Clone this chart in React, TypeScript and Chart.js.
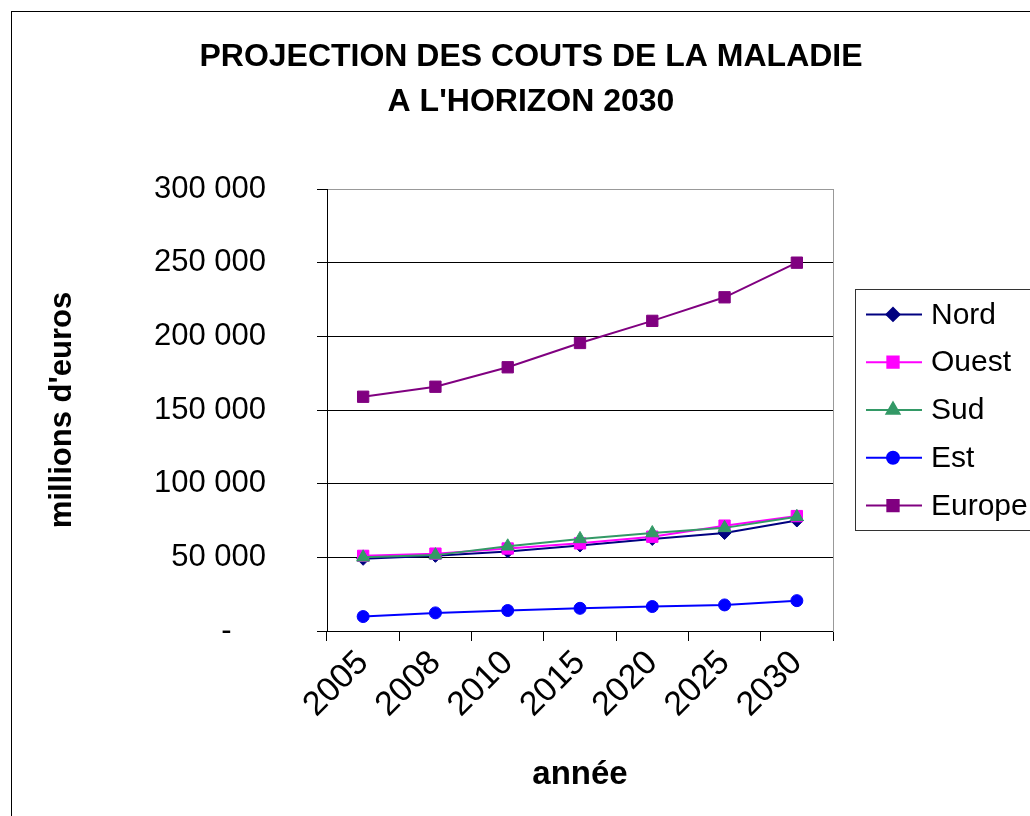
import React, { useEffect, useRef } from "react";
import { Chart, registerables } from "chart.js";
import { drawPoint } from "chart.js/helpers";

Chart.register(...registerables);

const years = ["2005", "2008", "2010", "2015", "2020", "2025", "2030"];
const nord = [49000, 51000, 54000, 58000, 62500, 66500, 75000];
const ouest = [51000, 52500, 56000, 59500, 64000, 71500, 78000];
const sud = [50000, 51500, 57500, 62500, 66500, 70000, 77500];
const est = [9800, 12300, 13900, 15400, 16600, 17700, 20600];
const europe = [159000, 165800, 179000, 195500, 210500, 226500, 250000];
const yTicks = [0, 50000, 100000, 150000, 200000, 250000, 300000];

const FONT = "'Liberation Sans', Arial, sans-serif";

const fmt = (v: number) =>
  v === 0 ? "-\u2007\u2007" : String(v).replace(/\B(?=(\d{3})+(?!\d))/g, " ");

const legendPlugin = {
  id: "boxLegend",
  afterDraw(chart: any) {
    const { ctx, chartArea } = chart;
    const ds = chart.data.datasets;
    const rowH = 47.8;
    const boxH = rowH * ds.length + 2;
    const left = chartArea.right + 22;
    const top = (chartArea.top + chartArea.bottom) / 2 - boxH / 2 - 1;
    ctx.save();
    ctx.strokeStyle = "#333333";
    ctx.lineWidth = 1;
    ctx.strokeRect(Math.round(left) + 0.5, Math.round(top) + 0.5, 400, boxH);
    ctx.font = `30px ${FONT}`;
    ctx.textBaseline = "middle";
    ctx.fillStyle = "#000";
    ds.forEach((d: any, i: number) => {
      const cy = top + rowH * (i + 0.5) + 2;
      ctx.strokeStyle = d.borderColor;
      ctx.lineWidth = 2;
      ctx.beginPath();
      ctx.moveTo(left + 11, cy);
      ctx.lineTo(left + 67, cy);
      ctx.stroke();
      ctx.fillStyle = d.pointBackgroundColor;
      ctx.strokeStyle = d.pointBorderColor;
      drawPoint(ctx, { pointStyle: d.pointStyle, radius: d.pointRadius, rotation: 0, borderWidth: 1 }, left + 38, cy);
      ctx.fillStyle = "#000";
      ctx.fillText(d.label, left + 76, cy + 1);
    });
    ctx.restore();
  },
};

function mk(label: string, data: number[], color: string, style: string, radius: number, order: number) {
  return {
    label,
    data,
    borderColor: color,
    backgroundColor: color,
    pointBackgroundColor: color,
    pointBorderColor: color,
    pointBorderWidth: 1,
    pointStyle: style,
    pointRadius: radius,
    borderWidth: 2,
    tension: 0,
    order,
  };
}

export default function App() {
  const ref = useRef<HTMLCanvasElement>(null);
  useEffect(() => {
    if (!ref.current) return;
    const chart = new Chart(ref.current, {
      type: "line",
      data: {
        labels: years,
        datasets: [
          mk("Nord", nord, "#000080", "rectRot", 6.5, 5),
          mk("Ouest", ouest, "#FF00FF", "rect", 8, 4),
          mk("Sud", sud, "#339966", "triangle", 7.5, 3),
          mk("Est", est, "#0000FF", "circle", 6, 2),
          mk("Europe", europe, "#800080", "rect", 8, 1),
        ],
      },
      options: {
        responsive: false,
        animation: false,
        events: [],
        layout: { padding: { left: 32, right: 0, top: 0, bottom: 0 } },
        plugins: {
          legend: { display: false },
          tooltip: { enabled: false },
          title: {
            display: true,
            text: ["PROJECTION DES COUTS DE LA MALADIE", "A L'HORIZON 2030"],
            color: "#000",
            font: { family: FONT, size: 32, weight: "bold", lineHeight: "45px" },
            padding: { top: 35, bottom: 64 },
          },
        },
        scales: {
          x: {
            type: "category",
            offset: true,
            grid: {
              offset: true,
              drawOnChartArea: false,
              drawTicks: true,
              tickLength: 10,
              color: "#000",
            },
            border: { display: true, color: "#000", width: 1 },
            ticks: {
              color: "#000",
              font: { family: FONT, size: 34 },
              minRotation: 45,
              maxRotation: 45,
              autoSkip: false,
              padding: 2,
            },
            title: {
              display: true,
              text: "année",
              color: "#000",
              font: { family: FONT, size: 33, weight: "bold", lineHeight: 1.2 },
              padding: { top: 0, bottom: 21 },
            },
            afterFit: (s: any) => {
              s.height = 185;
            },
          },
          y: {
            type: "linear",
            position: "left",
            min: 0,
            max: 300000,
            afterBuildTicks: (s: any) => {
              s.ticks = yTicks.map((v) => ({ value: v }));
            },
            grid: {
              color: (c: any) => (c.tick && c.tick.value === 300000 ? "#999999" : "#000000"),
              tickColor: "#000",
              tickLength: 10,
              lineWidth: 1,
            },
            border: { display: true, color: "#000", width: 1 },
            ticks: {
              color: "#000",
              font: { family: FONT, size: 31 },
              padding: 51,
              callback: (v: any) => fmt(Number(v)),
            },
            title: {
              display: true,
              text: "millions d'euros",
              color: "#000",
              font: { family: FONT, size: 31, weight: "bold", lineHeight: 1.2 },
              padding: { top: 12, bottom: 0 },
            },
            afterFit: (s: any) => {
              s.width = 295;
            },
          },
          y2: {
            type: "linear",
            position: "right",
            display: true,
            grid: { display: false, drawTicks: false },
            ticks: { display: false },
            border: { display: true, color: "#999999", width: 1 },
            afterFit: (s: any) => {
              s.width = 197;
            },
          },
        },
      },
      plugins: [legendPlugin],
    } as any);
    return () => chart.destroy();
  }, []);

  return (
    <div
      style={{
        position: "fixed",
        left: 0,
        top: 0,
        width: 1030,
        height: 816,
        overflow: "hidden",
        background: "#fff",
      }}
    >
      <canvas ref={ref} width={1030} height={816} style={{ position: "absolute", left: 0, top: 0 }} />
      <div
        style={{
          position: "absolute",
          left: 11,
          top: 11,
          width: 1200,
          height: 1000,
          border: "1px solid #000",
          pointerEvents: "none",
        }}
      />
    </div>
  );
}
